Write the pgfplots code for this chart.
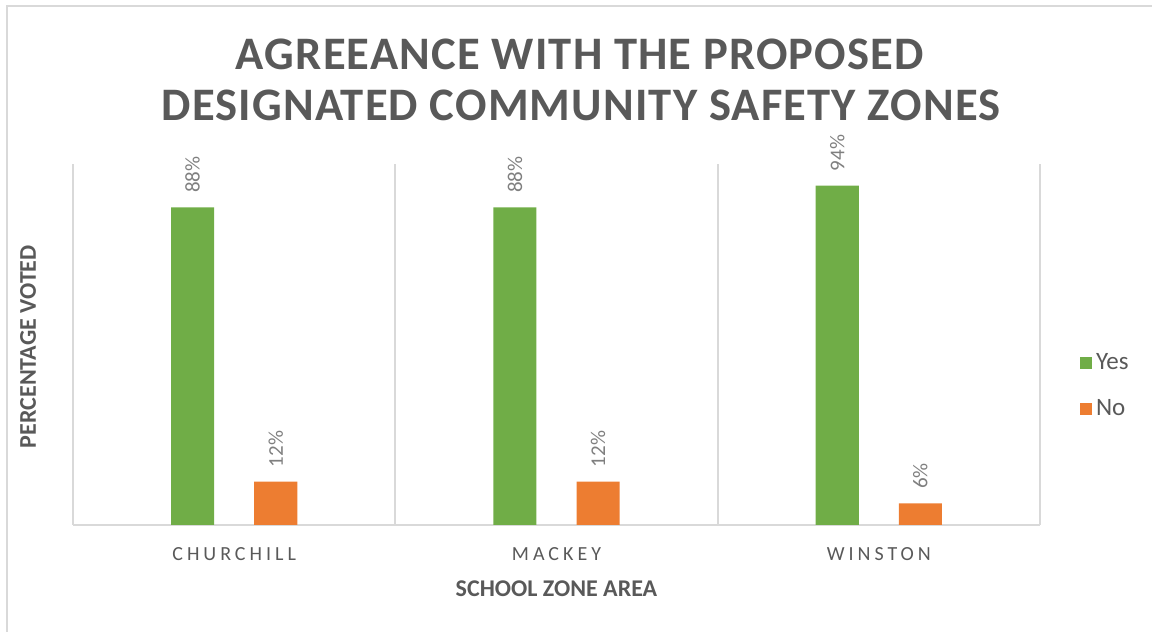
\documentclass[border=0pt]{standalone}
\usepackage{pgfplots}
\pgfplotsset{compat=1.18}
\usepackage{fontspec}
\setmainfont{Carlito}
\newfontfamily\titlefont{Carlito}[LetterSpace=2.5]
\newfontfamily\tickfont{Carlito}[LetterSpace=20]
\definecolor{cgreen}{HTML}{70AD47}
\definecolor{corange}{HTML}{ED7D31}
\definecolor{ctext}{HTML}{595959}
\definecolor{clabel}{HTML}{7F7F7F}
\definecolor{cgrid}{HTML}{D9D9D9}
\begin{document}
\begin{tikzpicture}
\path[use as bounding box] (0pt,0pt) rectangle (576pt,316pt);
\draw[cgrid, line width=1pt] (3.25pt,0pt) -- (3.25pt,312.75pt) -- (576pt,312.75pt);
\node[anchor=base, font=\titlefont\bfseries\fontsize{23.3}{28}\selectfont, text=ctext, inner sep=0pt] at (290pt,281pt) {AGREEANCE WITH THE PROPOSED};
\node[anchor=base, font=\titlefont\bfseries\fontsize{23.3}{28}\selectfont, text=ctext, inner sep=0pt] at (290.5pt,255.5pt) {DESIGNATED COMMUNITY SAFETY ZONES};
\begin{axis}[
  at={(36.5pt,53.5pt)}, anchor=south west,
  scale only axis, width=483.5pt, height=180.5pt,
  xmin=-0.5, xmax=2.5, ymin=0, ymax=100,
  axis x line*=bottom, axis y line*=left,
  x axis line style={cgrid, line width=0.9pt, -},
  y axis line style={draw=none},
  ytick=\empty,
  xtick={0,1,2},
  xticklabels={CHURCHILL,MACKEY,WINSTON},
  minor xtick={-0.5,0.5,1.5,2.5},
  xminorgrids, minor x grid style={cgrid, line width=0.9pt},
  major tick length=0pt, minor tick length=0pt,
  xticklabel style={anchor=base, yshift=-17.5pt, inner sep=0pt, font=\tickfont\fontsize{10}{12}\selectfont, text=ctext},
  xlabel={SCHOOL ZONE AREA},
  xlabel style={at={(axis description cs:0.5,-0.1994)}, anchor=base, inner sep=0pt, font=\bfseries\fontsize{12}{14}\selectfont, text=ctext},
  ylabel={PERCENTAGE VOTED},
  ylabel style={at={(axis description cs:-0.0383,0.494)}, anchor=base, inner sep=0pt, font=\bfseries\fontsize{12}{14}\selectfont, text=ctext},
  /pgf/number format/assume math mode=true,
  ybar, bar width=0.1335,
  nodes near coords={\pgfmathprintnumber{\pgfplotspointmeta}\%},
  every node near coord/.append style={rotate=90, anchor=west, inner xsep=7pt, inner ysep=0pt, font=\fontsize{10.5}{12}\selectfont, text=clabel},
  legend style={draw=none, fill=none, at={(axis description cs:1.041,0.386)}, anchor=west, inner sep=0pt, row sep=9.5pt, font=\fontsize{12.5}{14}\selectfont, text=ctext, nodes={inner sep=2pt}},
  legend cell align=left,
  legend image code/.code={\path[#1] (0pt,-3pt) rectangle (6pt,3pt);},
]
\addplot[fill=cgreen, draw=none, bar shift=-0.129] coordinates {(0,88) (1,88) (2,94)};
\addplot[fill=corange, draw=none, bar shift=0.129] coordinates {(0,12) (1,12) (2,6)};
\legend{Yes,No}
\end{axis}
\end{tikzpicture}
\end{document}
